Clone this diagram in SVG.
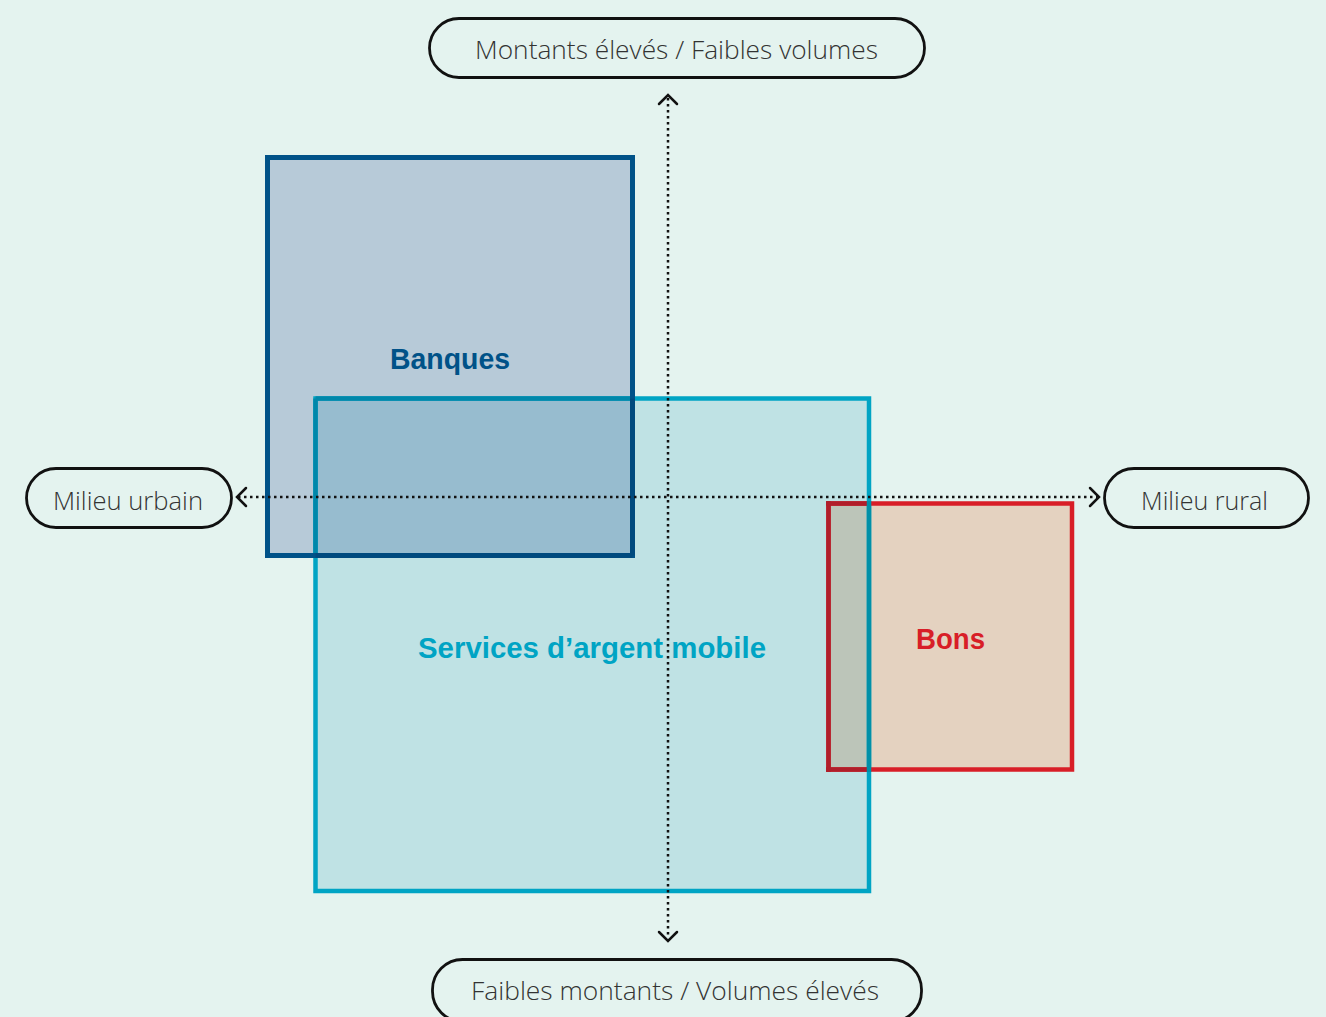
<svg xmlns="http://www.w3.org/2000/svg" width="1326" height="1017" viewBox="0 0 1326 1017">
<style>
.pill{fill:none;stroke:#111;stroke-width:2.8}
.pt{font-family:"Open Sans","Liberation Sans",sans-serif;font-weight:300;font-size:26px;fill:#333;text-anchor:middle}
.lb{font-family:"Liberation Sans","Open Sans",sans-serif;font-weight:bold;font-size:29px;text-anchor:middle}
.axis{fill:none;stroke:#111;stroke-width:2.5;stroke-dasharray:2.5 3.5}
.head{fill:none;stroke:#111;stroke-width:2.5;stroke-linecap:round;stroke-linejoin:miter}
</style>
<rect width="1326" height="1017" fill="#e4f3ef"/>
<g id="mobile">
<rect x="315.5" y="398.5" width="553.5" height="492.5" fill="#bfe2e4"/>
</g>
<g id="banques">
<rect x="267.5" y="157.5" width="365" height="398" fill="#b7cad8"/>
<rect x="315.5" y="398.5" width="317" height="157" fill="#97bccf"/>
</g>
<g id="bons">
<rect x="828.5" y="503.5" width="243.5" height="266" fill="#e4d2c0"/>
<rect x="828.5" y="503.5" width="40.5" height="266" fill="#bcc5b9"/>
</g>
<g id="borders">
<rect x="315.5" y="398.5" width="553.5" height="492.5" fill="none" stroke="#00a4c4" stroke-width="4.5"/>
<path d="M315.5 398.5V555.5M315.5 398.5H632.5" stroke="#0087aa" stroke-width="4.5" fill="none"/>
<rect x="267.5" y="157.5" width="365" height="398" fill="none" stroke="#005288" stroke-width="5"/>
<path d="M632.5 398.5V555.5M315.5 555.5H632.5" stroke="#004a7e" stroke-width="5" fill="none"/>
<rect x="828.5" y="503.5" width="243.5" height="266" fill="none" stroke="#d81e27" stroke-width="4.5"/>
<path d="M828.5 501V772M826 503.5H869M826 769.5H869" stroke="#b01e2a" stroke-width="4.5" fill="none"/>
<path d="M869 501V772" stroke="#0090a8" stroke-width="4.5" fill="none"/>
</g>
<g id="labels">
<text class="lb" x="450" y="369" fill="#005288" textLength="120" lengthAdjust="spacingAndGlyphs">Banques</text>
<text class="lb" x="592" y="658" fill="#00a4c4" textLength="348" lengthAdjust="spacingAndGlyphs">Services d’argent mobile</text>
<text class="lb" x="950.5" y="649" fill="#d81e27" textLength="69" lengthAdjust="spacingAndGlyphs">Bons</text>
</g>
<g id="connectors">
<line class="axis" x1="668" y1="98" x2="668" y2="938"/>
<line class="axis" x1="238" y1="497" x2="1097" y2="497"/>
<path class="head" d="M659 104L668 95L677 104"/>
<path class="head" d="M659 932L668 941L677 932"/>
<path class="head" d="M246 488L237 497L246 506"/>
<path class="head" d="M1090 488L1099 497L1090 506"/>
</g>
<g id="top">
<rect class="pill" x="429.5" y="18.5" width="495" height="59" rx="29.5"/>
<text class="pt" x="676.5" y="59" textLength="403" lengthAdjust="spacingAndGlyphs">Montants élevés / Faibles volumes</text>
</g>
<g id="left">
<rect class="pill" x="26.5" y="468.5" width="205" height="59" rx="29.5"/>
<text class="pt" x="128" y="510" textLength="150" lengthAdjust="spacingAndGlyphs">Milieu urbain</text>
</g>
<g id="right">
<rect class="pill" x="1104.5" y="468.5" width="204" height="59" rx="29.5"/>
<text class="pt" x="1204.5" y="510" textLength="127" lengthAdjust="spacingAndGlyphs">Milieu rural</text>
</g>
<g id="bottom">
<rect class="pill" x="432.5" y="959.5" width="489" height="62" rx="30"/>
<text class="pt" x="675" y="1000" textLength="408" lengthAdjust="spacingAndGlyphs">Faibles montants / Volumes élevés</text>
</g>
</svg>
